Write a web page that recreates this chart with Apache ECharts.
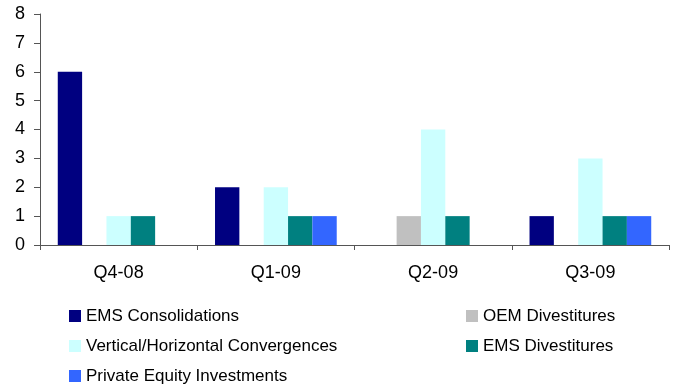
<!DOCTYPE html>
<html>
<head>
<meta charset="utf-8">
<script src="https://cdn.jsdelivr.net/npm/echarts@6/dist/echarts.min.js"></script>
<style>
  html, body { margin: 0; padding: 0; background: #fff; }
  #chart { width: 675px; height: 387px; }
</style>
</head>
<body>
<div id="chart"></div>
<script>
// Deal counts per quarter, by transaction type
const quarters = ['Q4-08', 'Q1-09', 'Q2-09', 'Q3-09'];
const emsConsolidations = [6, 2, 0, 1];
const oemDivestitures = [0, 0, 1, 0];
const verticalHorizontal = [1, 2, 4, 3];
const emsDivestitures = [1, 1, 1, 1];
const privateEquity = [0, 1, 0, 1];

const seriesDefs = [
  { name: 'EMS Consolidations', data: emsConsolidations, color: '#000080' },
  { name: 'OEM Divestitures', data: oemDivestitures, color: '#C0C0C0' },
  { name: 'Vertical/Horizontal Convergences', data: verticalHorizontal, color: '#CCFFFF' },
  { name: 'EMS Divestitures', data: emsDivestitures, color: '#008080' },
  { name: 'Private Equity Investments', data: privateEquity, color: '#3366FF' }
];

const font = "'Liberation Sans', Arial, sans-serif";
const axisColor = '#555555';

const legendText = { color: '#000', fontFamily: font, fontSize: 17, lineHeight: 20 };

// Two legend columns laid out under the plot
const legendBase = {
  orient: 'vertical', top: 306, height: 100, padding: 0,
  itemWidth: 12, itemHeight: 12, itemGap: 10,
  icon: 'rect', textStyle: legendText
};

const chart = echarts.init(document.getElementById('chart'), null, { renderer: 'canvas' });
chart.setOption({
  animation: false,
  backgroundColor: '#ffffff',
  grid: { left: 40, right: 6, top: 14, bottom: 142, containLabel: false },
  legend: [
    Object.assign({}, legendBase, {
      left: 69,
      data: ['EMS Consolidations', 'Vertical/Horizontal Convergences', 'Private Equity Investments']
    }),
    Object.assign({}, legendBase, {
      left: 466,
      data: ['OEM Divestitures', 'EMS Divestitures']
    })
  ],
  xAxis: {
    type: 'category',
    data: quarters,
    axisLine: { lineStyle: { color: axisColor, width: 1 } },
    axisTick: { show: true, length: 5, alignWithLabel: false, lineStyle: { color: axisColor } },
    axisLabel: { color: '#000', fontFamily: font, fontSize: 18, margin: 19 },
    splitLine: { show: false }
  },
  yAxis: {
    type: 'value',
    min: 0, max: 8, interval: 1,
    axisLine: { show: true, lineStyle: { color: axisColor, width: 1 } },
    axisTick: { show: true, length: 6, lineStyle: { color: axisColor } },
    axisLabel: { color: '#000', fontFamily: font, fontSize: 18, margin: 15 },
    splitLine: { show: false }
  },
  series: seriesDefs.map(s => ({
    name: s.name,
    type: 'bar',
    data: s.data,
    barGap: '0%',
    barCategoryGap: '22.6%',
    itemStyle: { color: s.color }
  }))
});
</script>
</body>
</html>
